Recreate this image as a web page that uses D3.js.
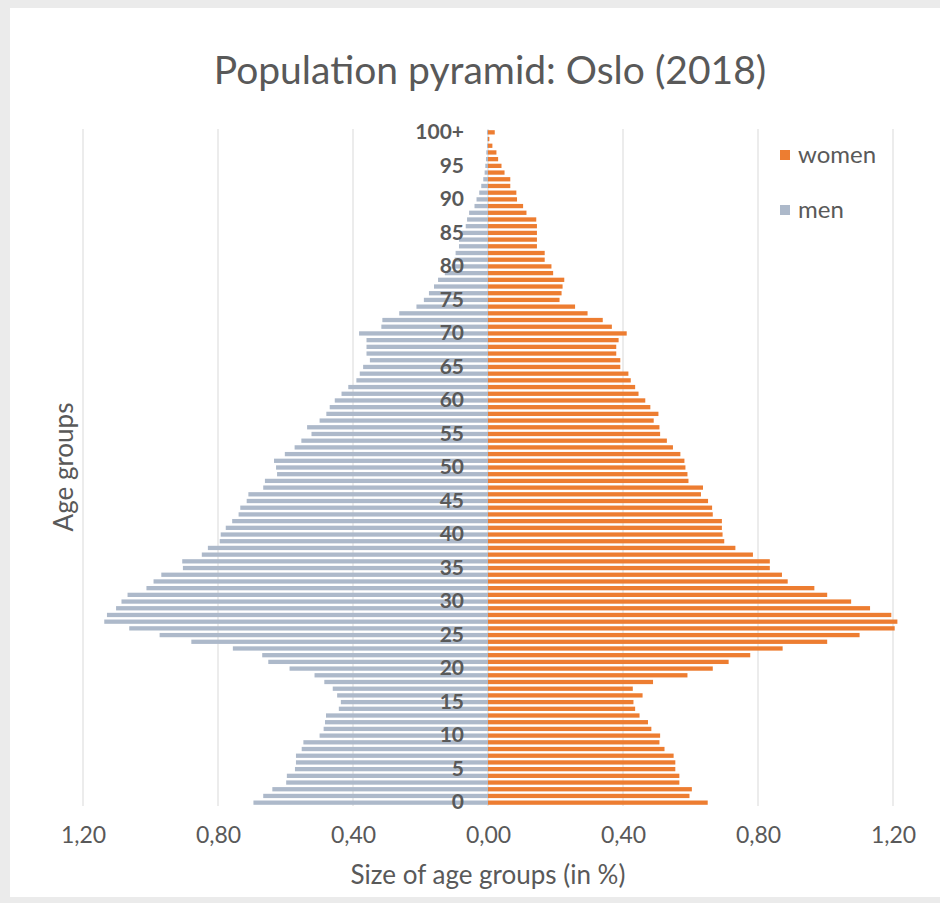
<!DOCTYPE html>
<html>
<head>
<meta charset="utf-8">
<script src="https://cdn.jsdelivr.net/npm/d3@7"></script>
<style>
  body { margin: 0; background: #ebebeb; }
  text { font-family: Lato, "Open Sans", sans-serif; fill: #595959; }
</style>
</head>
<body>
<div id="chart"></div>
<script>
// age groups 0..99 and 100+
const ages = d3.range(0, 100).map(String).concat(["100+"]);

// share of total population (%), one value per age group
const men = [
  0.695, 0.666, 0.639, 0.598, 0.596, 0.572, 0.569, 0.569, 0.552, 0.547,
  0.499, 0.487, 0.483, 0.480, 0.442, 0.436, 0.447, 0.460, 0.485, 0.514,
  0.588, 0.651, 0.669, 0.756, 0.879, 0.973, 1.063, 1.137, 1.129, 1.102,
  1.086, 1.068, 1.012, 0.991, 0.968, 0.904, 0.906, 0.848, 0.830, 0.795,
  0.792, 0.777, 0.758, 0.739, 0.734, 0.715, 0.710, 0.666, 0.661, 0.625,
  0.628, 0.634, 0.602, 0.573, 0.553, 0.523, 0.536, 0.499, 0.479, 0.469,
  0.454, 0.434, 0.414, 0.390, 0.380, 0.370, 0.350, 0.360, 0.360, 0.360,
  0.382, 0.316, 0.313, 0.263, 0.212, 0.190, 0.175, 0.160, 0.148, 0.128,
  0.108, 0.099, 0.096, 0.086, 0.086, 0.079, 0.066, 0.062, 0.056, 0.040,
  0.034, 0.026, 0.020, 0.014, 0.010, 0.008, 0.006, 0.005, 0.003, 0.002,
  0.003
];

const women = [
  0.651, 0.597, 0.604, 0.567, 0.567, 0.555, 0.555, 0.550, 0.523, 0.508,
  0.510, 0.484, 0.474, 0.449, 0.436, 0.431, 0.458, 0.429, 0.489, 0.591,
  0.666, 0.713, 0.777, 0.873, 1.005, 1.101, 1.205, 1.213, 1.195, 1.132,
  1.076, 1.005, 0.967, 0.888, 0.871, 0.835, 0.835, 0.785, 0.733, 0.700,
  0.695, 0.693, 0.693, 0.666, 0.664, 0.652, 0.631, 0.637, 0.594, 0.591,
  0.585, 0.582, 0.570, 0.548, 0.530, 0.510, 0.508, 0.491, 0.505, 0.481,
  0.466, 0.446, 0.436, 0.423, 0.416, 0.392, 0.392, 0.380, 0.380, 0.387,
  0.411, 0.367, 0.340, 0.295, 0.258, 0.212, 0.218, 0.221, 0.226, 0.193,
  0.188, 0.168, 0.168, 0.145, 0.145, 0.145, 0.145, 0.143, 0.114, 0.104,
  0.086, 0.084, 0.066, 0.066, 0.049, 0.040, 0.030, 0.025, 0.013, 0.004,
  0.020
];

const xTicks = [-1.2, -0.8, -0.4, 0, 0.4, 0.8, 1.2];
const series = [
  { name: "women", color: "#ED7D31" },
  { name: "men", color: "#ADB9CA" }
];

const width = 940, height = 903;
const plot = { left: 83, right: 893, top: 129, bottom: 806 };

const svg = d3.select("#chart").append("svg")
  .attr("width", width)
  .attr("height", height);

// light grey frame around the white chart area
svg.append("rect").attr("width", width).attr("height", height).attr("fill", "#ebebeb");
svg.append("rect")
  .attr("x", 10).attr("y", 8)
  .attr("width", width - 10).attr("height", 889)
  .attr("fill", "#fff");

const x = d3.scaleLinear().domain([-1.2, 1.2]).range([plot.left, plot.right]);
const y = d3.scaleBand()
  .domain(ages.slice().reverse())
  .range([plot.top, plot.bottom])
  .paddingInner(0.36)
  .paddingOuter(0.18);

// gridlines
svg.append("g")
  .selectAll("line")
  .data(xTicks)
  .join("line")
  .attr("x1", d => x(d)).attr("x2", d => x(d))
  .attr("y1", plot.top).attr("y2", plot.bottom)
  .attr("stroke", "#d9d9d9")
  .attr("stroke-width", 1);

const rows = ages.map((a, i) => ({ age: a, men: men[i], women: women[i] }));

// men to the left
svg.append("g")
  .selectAll("rect")
  .data(rows)
  .join("rect")
  .attr("x", d => x(-d.men))
  .attr("y", d => y(d.age))
  .attr("width", d => x(0) - x(-d.men))
  .attr("height", y.bandwidth())
  .attr("fill", series[1].color);

// women to the right
svg.append("g")
  .selectAll("rect")
  .data(rows)
  .join("rect")
  .attr("x", x(0))
  .attr("y", d => y(d.age))
  .attr("width", d => x(d.women) - x(0))
  .attr("height", y.bandwidth())
  .attr("fill", series[0].color);

// age labels next to the centre axis, every fifth group
const yAxis = svg.append("g")
  .attr("transform", `translate(${x(0)},0)`)
  .call(d3.axisLeft(y)
    .tickValues(ages.filter((a, i) => i % 5 === 0))
    .tickSize(0)
    .tickPadding(24));
yAxis.select(".domain").remove();
yAxis.selectAll("text")
  .style("font-family", "Lato, sans-serif")
  .style("font-size", "21px")
  .style("font-weight", 700)
  .attr("fill", "#595959");

// x axis
const fmt = d => d3.format(".2f")(Math.abs(d)).replace(".", ",");
const xAxis = svg.append("g")
  .attr("transform", `translate(0,${plot.bottom})`)
  .call(d3.axisBottom(x).tickValues(xTicks).tickFormat(fmt).tickSize(0).tickPadding(21));
xAxis.select(".domain").remove();
xAxis.selectAll("text")
  .style("font-family", "Lato, sans-serif")
  .style("font-size", "23px")
  .attr("fill", "#595959");

// title
svg.append("text")
  .attr("x", 490).attr("y", 84)
  .attr("text-anchor", "middle")
  .style("font-size", "39px")
  .text("Population pyramid: Oslo (2018)");

// axis titles
svg.append("text")
  .attr("x", x(0)).attr("y", 884)
  .attr("text-anchor", "middle")
  .style("font-size", "26px")
  .text("Size of age groups (in %)");

svg.append("text")
  .attr("transform", "translate(73,467) rotate(-90)")
  .attr("text-anchor", "middle")
  .style("font-size", "26px")
  .text("Age groups");

// legend
const legend = svg.append("g")
  .selectAll("g")
  .data(series)
  .join("g")
  .attr("transform", (d, i) => `translate(780,${155 + i * 55})`);
legend.append("rect")
  .attr("x", 0).attr("y", -5)
  .attr("width", 10).attr("height", 10)
  .attr("fill", d => d.color);
legend.append("text")
  .attr("x", 18).attr("y", 8)
  .style("font-size", "24px")
  .text(d => d.name);
</script>
</body>
</html>
